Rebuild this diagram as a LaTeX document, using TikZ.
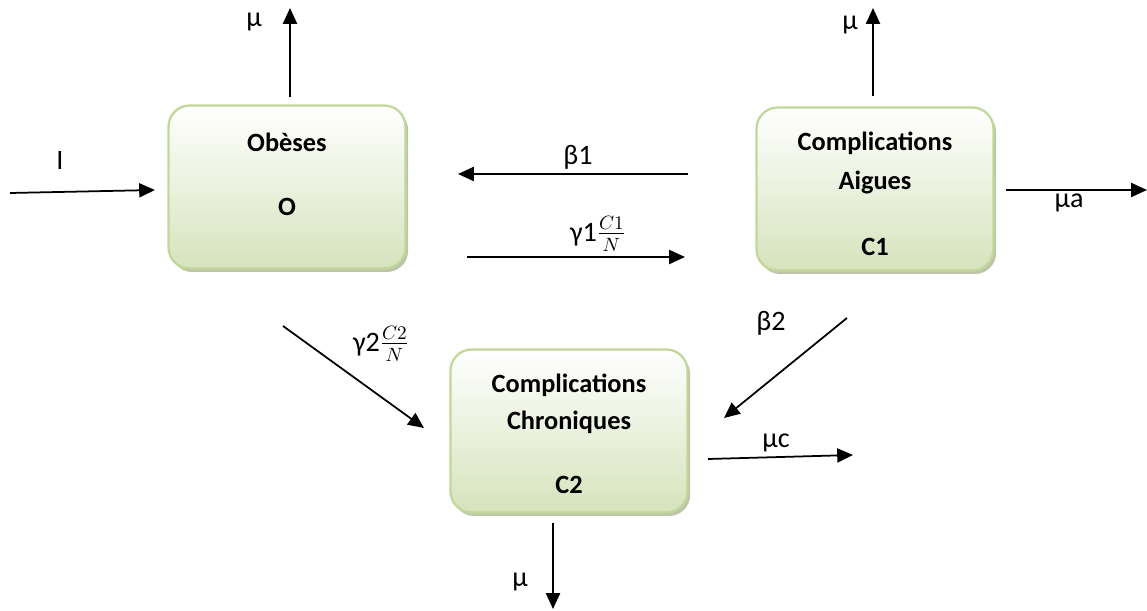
\documentclass[tikz,border=0pt]{standalone}
\usepackage{fontspec}
\setmainfont{Carlito}
\usetikzlibrary{arrows.meta, shadows}

\definecolor{boxline}{RGB}{195,214,155}
\definecolor{boxfill}{RGB}{214,227,188}
\definecolor{boxshade}{RGB}{160,172,130}

\tikzset{
  compart/.style={rounded corners=12pt, draw=boxline, line width=1.3pt,
    top color=white, bottom color=boxfill,
    minimum width=4.74cm, minimum height=3.26cm,
    drop shadow={shadow xshift=1.5pt, shadow yshift=-2pt, fill=boxshade, opacity=.7}},
  boxtext/.style={font=\fontsize{15}{18}\selectfont\bfseries},
  rate/.style={font=\fontsize{16}{19}\selectfont},
  flow/.style={-{Triangle[length=9pt,width=8pt]}, line width=1pt}
}

\begin{document}
\begin{tikzpicture}[x=0.02cm, y=-0.02cm]
  \useasboundingbox (0,0) rectangle (1147,611);

  % compartments
  \node[compart] (O) at (287,187) {};
  \node[compart] (C1) at (875,189) {};
  \node[compart] (C2) at (569,431) {};

  \node[boxtext] (Otitle) at (287,142) {Obèses};
  \node[boxtext] (Oname) at (287,207) {O};
  \node[boxtext] (C1title) at (875,143) {Complications};
  \node[boxtext] (C1sub) at (875,182) {Aigues};
  \node[boxtext] (C1name) at (875,247) {C1};
  \node[boxtext] (C2title) at (569,385) {Complications};
  \node[boxtext] (C2sub) at (569,422) {Chroniques};
  \node[boxtext] (C2name) at (569,485) {C2};

  % arrow ends
  \coordinate (Iin) at (10,193);
  \coordinate (Iout) at (155,190);
  \coordinate (Oup0) at (290,97);
  \coordinate (Oup1) at (290,8);
  \coordinate (C1up0) at (873,96);
  \coordinate (C1up1) at (873,8);
  \coordinate (b1s) at (688,174);
  \coordinate (b1e) at (458,174);
  \coordinate (g1s) at (467,257);
  \coordinate (g1e) at (685,257);
  \coordinate (mas) at (1006,190);
  \coordinate (mae) at (1147,190);
  \coordinate (g2s) at (283,326);
  \coordinate (g2e) at (424,428);
  \coordinate (b2s) at (847,318);
  \coordinate (b2e) at (724,418);
  \coordinate (mcs) at (708,459);
  \coordinate (mce) at (853,455);
  \coordinate (C2dn0) at (553,523);
  \coordinate (C2dn1) at (553,609);

  \draw[flow] (Iin) -- (Iout);
  \draw[flow] (Oup0) -- (Oup1);
  \draw[flow] (C1up0) -- (C1up1);
  \draw[flow] (b1s) -- (b1e);
  \draw[flow] (g1s) -- (g1e);
  \draw[flow] (mas) -- (mae);
  \draw[flow] (g2s) -- (g2e);
  \draw[flow] (b2s) -- (b2e);
  \draw[flow] (mcs) -- (mce);
  \draw[flow] (C2dn0) -- (C2dn1);

  % rates
  \node[rate] (lI) at (60,160) {I};
  \node[rate] (lmuO) at (254,22) {μ};
  \node[rate] (lmuC1) at (850,25) {μ};
  \node[rate] (lb1) at (578,157) {β1};
  \node[rate] (lg1) at (598,234) {γ1$\frac{C1}{N}$};
  \node[rate] (lma) at (1069,203) {μa};
  \node[rate] (lg2) at (381,344) {γ2$\frac{C2}{N}$};
  \node[rate] (lb2) at (771,323) {β2};
  \node[rate] (lmc) at (776,443) {μc};
  \node[rate] (lmuC2) at (520,582) {μ};
\end{tikzpicture}
\end{document}
